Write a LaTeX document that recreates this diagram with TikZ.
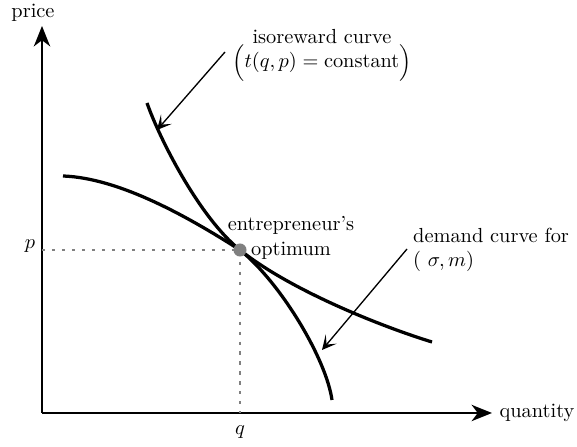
\documentclass[tikz,border=0pt]{standalone}
\usetikzlibrary{arrows.meta}
\begin{document}
\begin{tikzpicture}[x=0.69cm,y=0.69cm,
    axis/.style={line width=1pt,-{Stealth[length=10pt,width=8pt,inset=3pt]}},
    curve/.style={line width=1.6pt},
    pointer/.style={line width=0.65pt,-{Stealth[length=7pt,width=7pt,inset=3.5pt]}},
    guide/.style={gray,line width=1.3pt,dash pattern=on 1.5pt off 3.4pt}]
    \useasboundingbox (-1.05,-0.85) rectangle (13.375,10.325);
    % axes
    \coordinate (O) at (0,0);
    \coordinate (xtip) at (11.25,0);
    \coordinate (ytip) at (0,9.675);
    \draw[axis] (O) -- (xtip);
    \draw[axis] (O) -- (ytip);
    \node (quantity) at (12.375,0) {quantity};
    \node (price) at (-0.225,10.0) {price};
    % optimum and guide lines
    \coordinate (opt) at (4.95,4.075);
    \coordinate (pax) at (0,4.075);
    \coordinate (qax) at (4.95,0);
    \draw[guide] (pax) -- (opt) -- (qax);
    \node (p) at (-0.3,4.175) {$p$};
    \node (q) at (4.95,-0.475) {$q$};
    % isoreward curve
    \draw[curve] (2.625,7.75) .. controls (2.95,6.825) and (3.95,4.875) .. (opt)
        .. controls (5.95,3.275) and (7.1,1.375) .. (7.25,0.325);
    % demand curve
    \draw[curve] (0.525,5.925) .. controls (1.95,5.875) and (3.7,4.875) .. (opt)
        .. controls (6.2,3.075) and (8.45,2.175) .. (9.75,1.775);
    \fill[gray] (opt) circle (3.2pt);
    \node[align=center] (optlabel) at (6.225,4.375) {entrepreneur's\\optimum};
    % labels with pointers
    \node[align=center] (isolabel) at (7.0,8.95)
        {isoreward curve\\$\Big(t(q,p)=\mathrm{constant}\Big)$};
    \node[align=left,anchor=west] (demlabel) at (9.1,4.075)
        {demand curve for\\$(\ \sigma,m)$};
    \coordinate (isotail) at (4.575,9.025);
    \coordinate (isohead) at (2.875,7.075);
    \coordinate (demtail) at (9.125,4.1);
    \coordinate (demhead) at (7.0,1.575);
    \draw[pointer] (isotail) -- (isohead);
    \draw[pointer] (demtail) -- (demhead);
\end{tikzpicture}
\end{document}
